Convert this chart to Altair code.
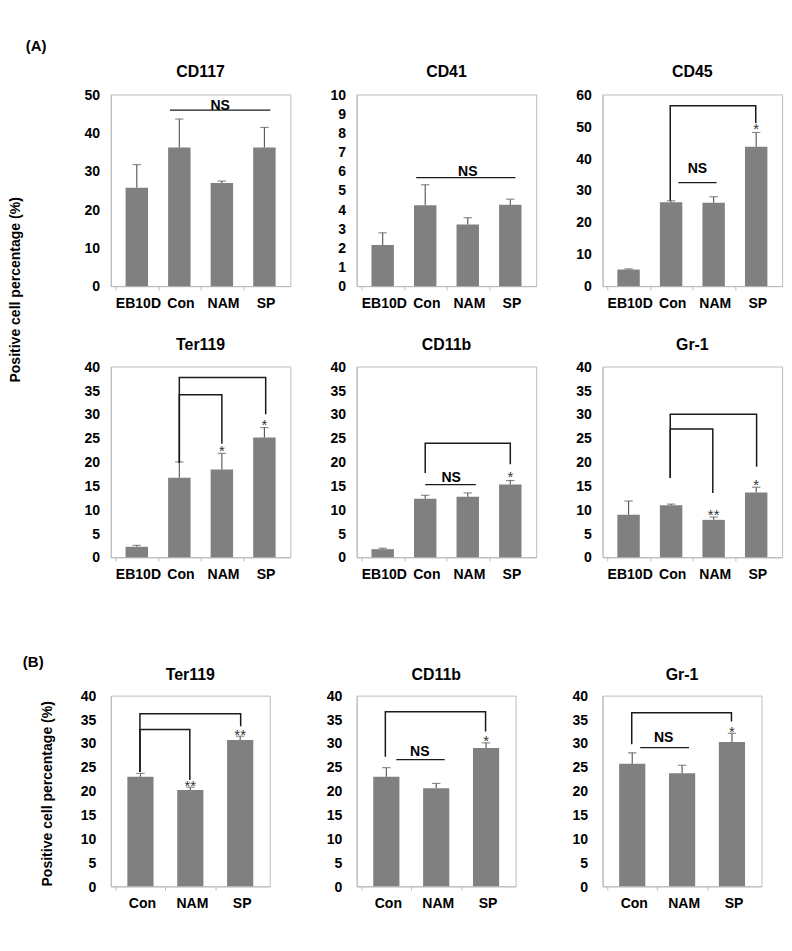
import altair as alt
import pandas as pd

FONT = "Liberation Sans"
BAR_COLOR = "#808080"
ERR_COLOR = "#555555"
LINE_COLOR = "#1a1a1a"
FRAME = "#b8b8b8"

CATS_A = ["EB10D", "Con", "NAM", "SP"]
CATS_B = ["Con", "NAM", "SP"]

# ---- (A) values (mean, upper error) ----
CD117_VALS = [25.7, 36.2, 26.9, 36.2]
CD117_ERRS = [6.0, 7.4, 0.5, 5.2]
CD41_VALS = [2.15, 4.22, 3.21, 4.25]
CD41_ERRS = [0.63, 1.07, 0.36, 0.29]
CD45_VALS = [5.2, 26.3, 26.1, 43.6]
CD45_ERRS = [0.2, 0.4, 1.9, 4.5]
TER119A_VALS = [2.2, 16.7, 18.4, 25.1]
TER119A_ERRS = [0.3, 3.3, 3.4, 2.1]
CD11BA_VALS = [1.7, 12.3, 12.7, 15.25]
CD11BA_ERRS = [0.2, 0.7, 0.8, 0.85]
GR1A_VALS = [8.9, 10.9, 7.85, 13.6]
GR1A_ERRS = [2.9, 0.25, 0.6, 1.1]

# ---- (B) values ----
TER119B_VALS = [23.0, 20.2, 30.7]
TER119B_ERRS = [0.7, 0.6, 0.8]
CD11BB_VALS = [23.0, 20.6, 29.0]
CD11BB_ERRS = [1.9, 1.0, 1.1]
GR1B_VALS = [25.7, 23.7, 30.3]
GR1B_ERRS = [2.3, 1.7, 1.8]

# ---- annotations, in data units (x: category slot index, y: percentage) ----
# NS lines: (x_start, x_end, y_line, x_text, y_text)
CD117_NS = [(1.28, 3.64, 45.9, 2.46, 47.3)]
CD41_NS = [(1.29, 3.62, 5.66, 2.50, 6.0)]
CD45_NS = [(1.67, 2.57, 32.4, 2.12, 36.9)]
CD11BA_NS = [(1.50, 2.69, 15.25, 2.11, 16.7)]
CD11BB_NS = [(0.70, 1.67, 26.6, 1.17, 28.4)]
GR1B_NS = [(0.66, 1.64, 29.1, 1.13, 31.3)]
# brackets: (x_left, y_left_end, x_right, y_right_end, y_top)
CD45_BR = [(1.48, 26.7, 3.49, 51.1, 56.5)]
TER119A_BR = [(1.5, 19.8, 3.53, 30.0, 37.7), (1.5, 19.8, 2.5, 23.8, 34.1)]
CD11BA_BR = [(1.5, 17.7, 3.5, 19.5, 23.9)]
GR1A_BR = [(1.48, 16.6, 3.51, 19.0, 30.0), (1.48, 16.6, 2.48, 13.5, 26.9)]
TER119B_BR = [(0.49, 24.0, 2.51, 33.6, 36.2), (0.49, 24.0, 1.49, 22.3, 32.9)]
CD11BB_BR = [(0.48, 27.2, 2.49, 32.5, 36.6)]
GR1B_BR = [(0.49, 29.8, 2.49, 34.6, 36.4)]
# significance stars: (x, y, text)
CD45_ST = [(3.5, 50.4, "*")]
TER119A_ST = [(2.5, 23.0, "*"), (3.5, 28.4, "*")]
CD11BA_ST = [(3.5, 17.6, "*")]
GR1A_ST = [(2.5, 9.6, "**"), (3.5, 15.8, "*")]
TER119B_ST = [(1.5, 21.7, "**"), (2.5, 32.5, "**")]
CD11BB_ST = [(2.5, 31.2, "*")]
GR1B_ST = [(2.5, 33.0, "*")]

YTITLE = "Positive cell percentage (%)"


def panel(title, cats, vals, errs, ymax, ystep, width, height, bar_size,
          ns=(), brackets=(), stars=(), ylabel_pad=12, title_offset=7):
    n = len(cats)
    df = pd.DataFrame({"cat": cats, "pos": [i + 0.5 for i in range(n)],
                       "v": vals, "e": errs})
    df["top"] = df["v"] + df["e"]
    xs = alt.Scale(domain=[0, n], nice=False, zero=False)
    ys = alt.Scale(domain=[0, ymax], nice=False, zero=True)
    label_expr = "[" + ",".join("'%s'" % c for c in cats) + "][datum.value]"
    # ticks at the slot boundaries, labels shifted to the slot centres
    xaxis = alt.Axis(values=list(range(n)), labelExpr=label_expr,
                     labelOffset=width / n / 2, labelFlush=False, labelOverlap=False,
                     labelBound=False, tickSize=4, tickColor=FRAME, domainColor=FRAME,
                     labelPadding=7, grid=False, labelFontSize=15, labelFontWeight="bold",
                     labelFont=FONT, labelColor="black", title=None)
    yvals = list(range(0, ymax + 1, ystep))
    yaxis = alt.Axis(values=yvals, grid=False, ticks=False, tickSize=0, domainColor=FRAME,
                     labelPadding=ylabel_pad, labelFontSize=15, labelFontWeight="bold",
                     labelFont=FONT, labelColor="black", title=None)

    def X(f):
        return alt.X(f, scale=xs, axis=xaxis, title=None)

    def Y(f):
        return alt.Y(f, scale=ys, axis=yaxis, title=None)

    base = alt.Chart(df)
    bars = base.mark_bar(size=bar_size, color=BAR_COLOR, orient="vertical").encode(
        x=X("pos:Q"), y=Y("v:Q"))
    err = base.mark_rule(color=ERR_COLOR, strokeWidth=1.2).encode(
        x=X("pos:Q"), y=Y("v:Q"), y2="top:Q")
    cap = base.mark_tick(color=ERR_COLOR, orient="horizontal", size=9, thickness=1.2).encode(
        x=X("pos:Q"), y=Y("top:Q"))
    layers = [bars, err, cap]

    if ns:
        nsdf = pd.DataFrame(list(ns), columns=["x1", "x2", "y", "xt", "yt"])
        nsdf["t"] = "NS"
        layers.append(alt.Chart(nsdf).mark_rule(color=LINE_COLOR, strokeWidth=1.3).encode(
            x=X("x1:Q"), x2="x2:Q", y=Y("y:Q")))
        layers.append(alt.Chart(nsdf).mark_text(font=FONT, fontWeight="bold", fontSize=15,
                                                color="black", baseline="middle").encode(
            x=X("xt:Q"), y=Y("yt:Q"), text="t:N"))
    if brackets:
        pts = []
        for k, (xl, yl, xr, yr, yt) in enumerate(brackets):
            pts += [(k, 0, xl, yl), (k, 1, xl, yt), (k, 2, xr, yt), (k, 3, xr, yr)]
        bdf = pd.DataFrame(pts, columns=["id", "o", "x", "y"])
        layers.append(alt.Chart(bdf).mark_line(color=LINE_COLOR, strokeWidth=1.6,
                                               strokeJoin="miter").encode(
            x=X("x:Q"), y=Y("y:Q"), detail="id:N", order="o:Q"))
    if stars:
        sdf = pd.DataFrame(list(stars), columns=["x", "y", "t"])
        layers.append(alt.Chart(sdf).mark_text(font=FONT, fontSize=16, color="#333333",
                                               baseline="middle", dy=4).encode(
            x=X("x:Q"), y=Y("y:Q"), text="t:N"))

    return alt.layer(*layers).properties(
        width=width, height=height,
        title=alt.TitleParams(title, fontSize=17, font=FONT, fontWeight="bold",
                              color="black", offset=title_offset),
    )


def blank(width, height):
    return alt.Chart(pd.DataFrame({"a": [0]})).mark_point(opacity=0, size=1).encode(
        x=alt.value(0), y=alt.value(0)
    ).properties(width=width, height=height,
                 view=alt.ViewBackground(stroke="transparent"))


def label_cell(width, height, tag, tag_xy, title_xy):
    tdf = pd.DataFrame({"t": [tag]})
    ydf = pd.DataFrame({"t": [YTITLE]})
    tag_mark = alt.Chart(tdf).mark_text(font=FONT, fontWeight="bold", fontSize=16,
                                        color="black", baseline="middle",
                                        align="center").encode(
        text="t:N", x=alt.value(tag_xy[0]), y=alt.value(tag_xy[1]))
    title_mark = alt.Chart(ydf).mark_text(angle=270, font=FONT, fontWeight="bold",
                                          fontSize=15, baseline="middle", align="center",
                                          color="black").encode(
        text="t:N", x=alt.value(title_xy[0]), y=alt.value(title_xy[1]))
    return alt.layer(tag_mark, title_mark).properties(
        width=width, height=height, view=alt.ViewBackground(stroke="transparent"))


WA, WB = 192, 170
H1, H2, HB = 205, 204, 204
GAP_A, GAP_B = 55, 71          # horizontal gaps between plot areas
LEFT_A, LEFT_B = 72, 109       # left label cells
GAP_R1, GAP_R2 = 86, 148       # vertical gaps between plot rows

p1 = panel("CD117", CATS_A, CD117_VALS, CD117_ERRS, 50, 10, WA, H1, 24, ns=CD117_NS,
           title_offset=8)
p2 = panel("CD41", CATS_A, CD41_VALS, CD41_ERRS, 10, 1, WA, H1, 24, ns=CD41_NS,
           title_offset=8)
p3 = panel("CD45", CATS_A, CD45_VALS, CD45_ERRS, 60, 10, WA, H1, 24, ns=CD45_NS,
           brackets=CD45_BR, stars=CD45_ST, title_offset=8)
p4 = panel("Ter119", CATS_A, TER119A_VALS, TER119A_ERRS, 40, 5, WA, H2, 24,
           brackets=TER119A_BR, stars=TER119A_ST)
p5 = panel("CD11b", CATS_A, CD11BA_VALS, CD11BA_ERRS, 40, 5, WA, H2, 24, ns=CD11BA_NS,
           brackets=CD11BA_BR, stars=CD11BA_ST)
p6 = panel("Gr-1", CATS_A, GR1A_VALS, GR1A_ERRS, 40, 5, WA, H2, 24,
           brackets=GR1A_BR, stars=GR1A_ST)
p7 = panel("Ter119", CATS_B, TER119B_VALS, TER119B_ERRS, 40, 5, WB, HB, 28,
           brackets=TER119B_BR, stars=TER119B_ST, ylabel_pad=16, title_offset=6)
p8 = panel("CD11b", CATS_B, CD11BB_VALS, CD11BB_ERRS, 40, 5, WB, HB, 28, ns=CD11BB_NS,
           brackets=CD11BB_BR, stars=CD11BB_ST, ylabel_pad=16, title_offset=6)
p9 = panel("Gr-1", CATS_B, GR1B_VALS, GR1B_ERRS, 40, 5, WB, HB, 28, ns=GR1B_NS,
           brackets=GR1B_BR, stars=GR1B_ST, ylabel_pad=16, title_offset=6)

lab_a = label_cell(LEFT_A, H1, "(A)", (29, -51), (7, 209))
lab_b = label_cell(LEFT_B, HB, "(B)", (26, -36), (41, 105))

cells = [
    lab_a, p1, blank(GAP_A, H1), p2, blank(GAP_A, H1), p3, blank(1, H1),
    *[blank(1, GAP_R1) for _ in range(7)],
    blank(LEFT_A, H2), p4, blank(GAP_A, H2), p5, blank(GAP_A, H2), p6, blank(1, H2),
    *[blank(1, GAP_R2) for _ in range(7)],
    lab_b, p7, blank(GAP_B, HB), p8, blank(GAP_B, HB), p9, blank(1, HB),
]

chart = alt.concat(*cells, columns=7, spacing=0, bounds="flush",
                   align={"row": "each", "column": "none"}).properties(
    padding=0, background="white"
).configure_view(stroke=FRAME, strokeWidth=1)

chart.save("out.html", embed_options={"renderer": "svg", "actions": False})
